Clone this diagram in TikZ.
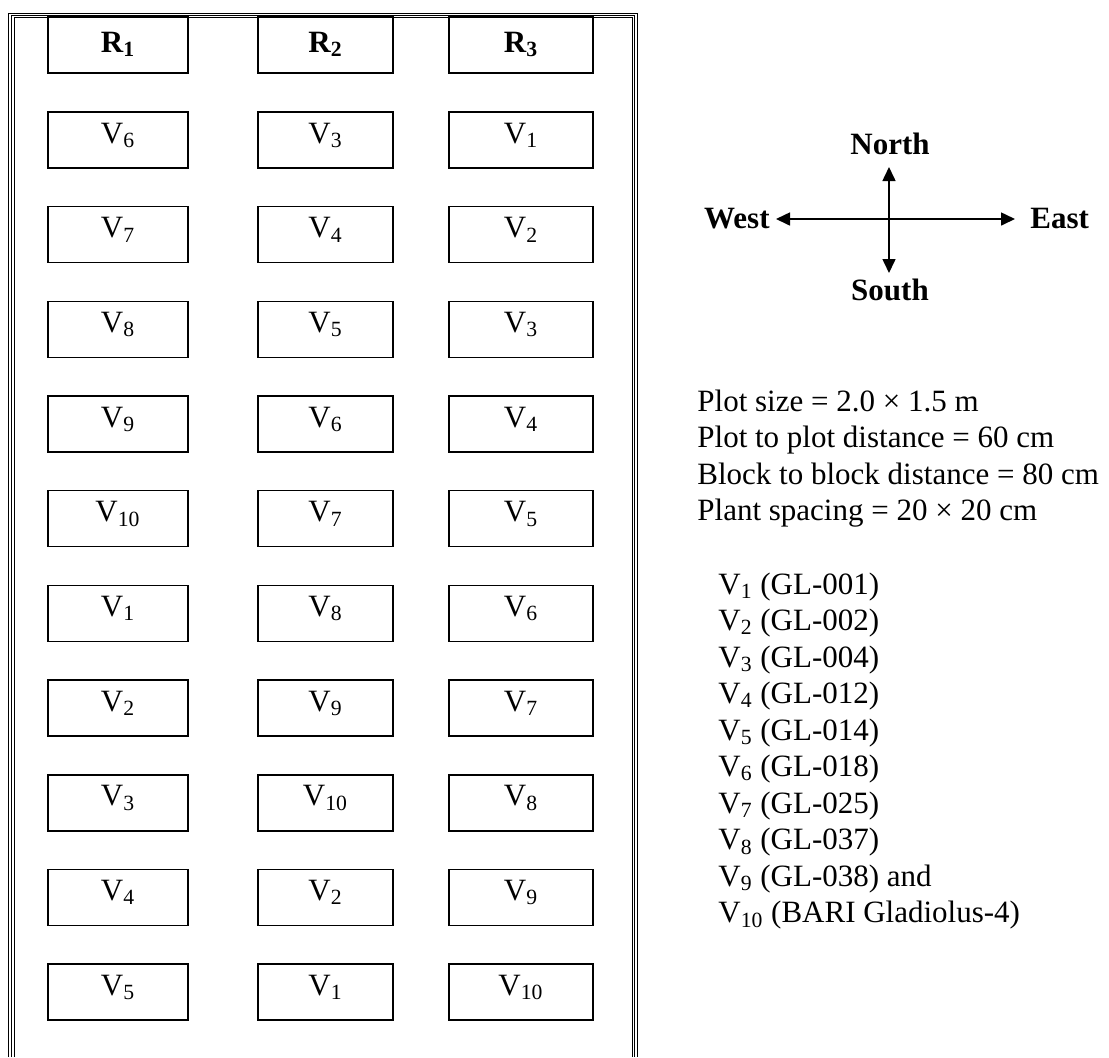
\documentclass[tikz,border=0pt]{standalone}
\usepackage{fontspec}
\setmainfont{Liberation Serif}
\usetikzlibrary{arrows.meta}
\begin{document}
\begin{tikzpicture}[x=0.5pt,y=-0.5pt,
  every node/.style={inner sep=0pt},
  txt/.style={font=\fontsize{15.5}{18}\selectfont},
  plotbox/.style={txt, draw, line width=0.8pt, minimum height=28pt,
    text height=10pt, text depth=7pt},
  repbox/.style={txt, draw, line width=0.8pt, minimum height=28pt,
    text height=12pt, text depth=5pt, font=\fontsize{15.5}{18}\selectfont\bfseries},
  frameline/.style={line width=0.5pt},
  dirlabel/.style={font=\fontsize{15.5}{18}\selectfont\bfseries},
  compass/.style={line width=0.8pt,
    {Triangle[length=7pt,width=6.5pt]}-{Triangle[length=7pt,width=6.5pt]}},
  note/.style={txt, anchor=base west}]
\useasboundingbox (0,0) rectangle (1109,1057);

% triple-line frame round the field layout, open at the bottom
\draw[frameline] (8,1057) -- (8,13) -- (637,13) -- (637,1057);
\draw[frameline] (11,1057) -- (11,15) -- (634.5,15) -- (634.5,1057);
\draw[frameline] (14,1057) -- (14,17) -- (632,17) -- (632,1057);

% replication headers
\node[repbox, minimum width=70pt]   (r1) at (118,45)   {R\textsubscript{1}};
\node[repbox, minimum width=67.5pt] (r2) at (325.5,45) {R\textsubscript{2}};
\node[repbox, minimum width=72pt]   (r3) at (521,45)   {R\textsubscript{3}};

% plots: variety numbers per row for R1 / R2 / R3
\foreach \a/\b/\c [count=\k] in {6/3/1, 7/4/2, 8/5/3, 9/6/4, 10/7/5,
                                 1/8/6, 2/9/7, 3/10/8, 4/2/9, 5/1/10} {
  \pgfmathsetmacro\yy{140+(\k-1)*94.67}
  \node[plotbox, minimum width=70pt]   (pa\k) at (118,\yy)   {V\textsubscript{\a}};
  \node[plotbox, minimum width=67.5pt] (pb\k) at (325.5,\yy) {V\textsubscript{\b}};
  \node[plotbox, minimum width=72pt]   (pc\k) at (521,\yy)   {V\textsubscript{\c}};
}

% compass
\coordinate (wtip) at (776,219);
\coordinate (etip) at (1015,219);
\coordinate (ntip) at (889,167);
\coordinate (stip) at (889,273);
\draw[compass] (wtip) -- (etip);
\draw[compass] (stip) -- (ntip);
\node[dirlabel, anchor=base] (north) at (890,154) {North};
\node[dirlabel, anchor=base] (south) at (890,300) {South};
\node[dirlabel, anchor=base east] (west) at (770,228) {West};
\node[dirlabel, anchor=base west] (east) at (1030,228) {East};

% experiment notes
\node[note] (n1) at (697,411) {Plot size = 2.0 × 1.5 m};
\node[note] (n2) at (697,447.5) {Plot to plot distance = 60 cm};
\node[note] (n3) at (697,484) {Block to block distance = 80 cm};
\node[note] (n4) at (697,520.5) {Plant spacing = 20 × 20 cm};

% variety key
\foreach \v/\name [count=\k] in {1/(GL-001), 2/(GL-002), 3/(GL-004), 4/(GL-012),
    5/(GL-014), 6/(GL-018), 7/(GL-025), 8/(GL-037), 9/(GL-038) and,
    10/(BARI Gladiolus-4)} {
  \pgfmathsetmacro\yy{594+(\k-1)*36.5}
  \node[note] (key\k) at (718,\yy) {V\textsubscript{\v} \name};
}
\end{tikzpicture}
\end{document}
